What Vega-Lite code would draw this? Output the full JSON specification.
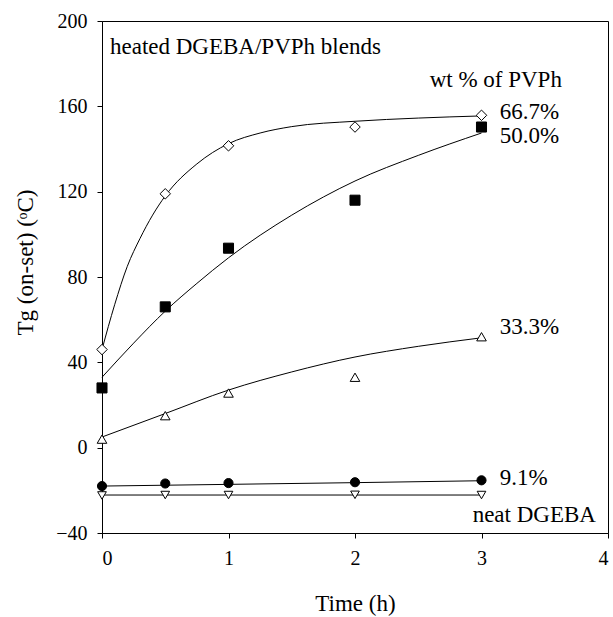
{
  "$schema": "https://vega.github.io/schema/vega-lite/v6.json",
  "width": 506,
  "height": 512,
  "autosize": {"type": "none"},
  "padding": {"left": 102, "top": 21, "right": 5, "bottom": 84},
  "background": "white",
  "config": {
    "view": {"stroke": "black", "strokeWidth": 1},
    "font": "Liberation Serif",
    "axis": {
      "grid": false,
      "domainColor": "black",
      "domainWidth": 1,
      "tickColor": "black",
      "tickSize": 5,
      "labelColor": "black",
      "labelFont": "Liberation Serif",
      "labelFontSize": 20,
      "labelPadding": 10,
      "titleFont": "Liberation Serif",
      "titleFontSize": 23,
      "titleFontWeight": "normal",
      "titleColor": "black"
    }
  },
  "datasets": {
    "pts": [
      {"series": "66.7%", "x": 0, "y": 46},
      {"series": "66.7%", "x": 0.5, "y": 119},
      {"series": "66.7%", "x": 1, "y": 141.5},
      {"series": "66.7%", "x": 2, "y": 150.3},
      {"series": "66.7%", "x": 3, "y": 155.8},
      {"series": "50.0%", "x": 0, "y": 28},
      {"series": "50.0%", "x": 0.5, "y": 66},
      {"series": "50.0%", "x": 1, "y": 93.5},
      {"series": "50.0%", "x": 2, "y": 116},
      {"series": "50.0%", "x": 3, "y": 150.3},
      {"series": "33.3%", "x": 0, "y": 4},
      {"series": "33.3%", "x": 0.5, "y": 15},
      {"series": "33.3%", "x": 1, "y": 25.6},
      {"series": "33.3%", "x": 2, "y": 33},
      {"series": "33.3%", "x": 3, "y": 52},
      {"series": "9.1%", "x": 0, "y": -18},
      {"series": "9.1%", "x": 0.5, "y": -16.8},
      {"series": "9.1%", "x": 1, "y": -16.6},
      {"series": "9.1%", "x": 2, "y": -16.2},
      {"series": "9.1%", "x": 3, "y": -15.3},
      {"series": "neat", "x": 0, "y": -22.4},
      {"series": "neat", "x": 0.5, "y": -22.2},
      {"series": "neat", "x": 1, "y": -22.2},
      {"series": "neat", "x": 2, "y": -22.1},
      {"series": "neat", "x": 3, "y": -22.2}
    ],
    "curves": [
      {"series": "66.7%", "x": 0, "y": 46},
      {"series": "66.7%", "x": 0.1, "y": 67},
      {"series": "66.7%", "x": 0.2, "y": 85},
      {"series": "66.7%", "x": 0.3, "y": 98},
      {"series": "66.7%", "x": 0.4, "y": 109},
      {"series": "66.7%", "x": 0.5, "y": 118},
      {"series": "66.7%", "x": 0.75, "y": 133},
      {"series": "66.7%", "x": 1, "y": 142.5},
      {"series": "66.7%", "x": 1.25, "y": 147.5},
      {"series": "66.7%", "x": 1.5, "y": 150.5},
      {"series": "66.7%", "x": 2, "y": 153},
      {"series": "66.7%", "x": 2.5, "y": 154.5},
      {"series": "66.7%", "x": 3, "y": 155.5},
      {"series": "50.0%", "x": 0, "y": 33},
      {"series": "50.0%", "x": 0.25, "y": 49},
      {"series": "50.0%", "x": 0.5, "y": 64},
      {"series": "50.0%", "x": 0.75, "y": 77},
      {"series": "50.0%", "x": 1, "y": 89},
      {"series": "50.0%", "x": 1.5, "y": 109},
      {"series": "50.0%", "x": 2, "y": 125},
      {"series": "50.0%", "x": 2.5, "y": 137},
      {"series": "50.0%", "x": 3, "y": 147.5},
      {"series": "33.3%", "x": 0, "y": 5},
      {"series": "33.3%", "x": 0.5, "y": 16},
      {"series": "33.3%", "x": 1, "y": 27},
      {"series": "33.3%", "x": 1.5, "y": 35.5},
      {"series": "33.3%", "x": 2, "y": 42.5},
      {"series": "33.3%", "x": 2.5, "y": 47.5},
      {"series": "33.3%", "x": 3, "y": 51.5},
      {"series": "9.1%", "x": 0, "y": -18},
      {"series": "9.1%", "x": 1, "y": -17.2},
      {"series": "9.1%", "x": 2, "y": -16.4},
      {"series": "9.1%", "x": 3, "y": -15.5},
      {"series": "neat", "x": 0, "y": -22.2},
      {"series": "neat", "x": 3, "y": -22.2}
    ],
    "labels": [
      {"x": 0.063, "y": 187.8, "text": "heated DGEBA/PVPh blends"},
      {"x": 2.59, "y": 172.3, "text": "wt % of PVPh"},
      {"x": 3.144, "y": 157.3, "text": "66.7%"},
      {"x": 3.144, "y": 146.3, "text": "50.0%"},
      {"x": 3.144, "y": 56.6, "text": "33.3%"},
      {"x": 3.144, "y": -14.2, "text": "9.1%"},
      {"x": 2.93, "y": -31.5, "text": "neat DGEBA"}
    ]
  },
  "layer": [
    {
      "data": {"name": "curves"},
      "mark": {"type": "line", "interpolate": "monotone", "color": "black", "strokeWidth": 1},
      "encoding": {
        "x": {
          "field": "x", "type": "quantitative",
          "scale": {"domain": [0, 4], "nice": false, "zero": false},
          "axis": {"values": [0, 1, 2, 3, 4], "format": "d", "title": "Time (h)", "titleY": 70, "titleBaseline": "middle"}
        },
        "y": {
          "field": "y", "type": "quantitative",
          "scale": {"domain": [-40, 200], "nice": false, "zero": false},
          "axis": {"values": [-40, 0, 40, 80, 120, 160, 200], "title": "Tg (on-set) (ᵒC)", "titleX": -77, "titleY": 241, "titleBaseline": "middle", "titleAngle": -90}
        },
        "detail": {"field": "series"}
      }
    },
    {
      "data": {"name": "pts"},
      "mark": {"type": "point", "filled": false, "stroke": "black", "strokeWidth": 1, "opacity": 1},
      "encoding": {
        "x": {"field": "x", "type": "quantitative"},
        "y": {"field": "y", "type": "quantitative"},
        "shape": {
          "field": "series", "type": "nominal", "legend": null,
          "scale": {"domain": ["66.7%", "50.0%", "33.3%", "9.1%", "neat"], "range": ["diamond", "square", "triangle-up", "circle", "triangle-down"]}
        },
        "fill": {
          "field": "series", "type": "nominal", "legend": null,
          "scale": {"domain": ["66.7%", "50.0%", "33.3%", "9.1%", "neat"], "range": ["white", "black", "white", "black", "white"]}
        },
        "size": {
          "field": "series", "type": "nominal", "legend": null,
          "scale": {"domain": ["66.7%", "50.0%", "33.3%", "9.1%", "neat"], "range": [110, 75, 100, 110, 100]}
        }
      }
    },
    {
      "data": {"name": "labels"},
      "mark": {"type": "text", "align": "left", "baseline": "middle", "fontSize": 23, "font": "Liberation Serif", "color": "black"},
      "encoding": {
        "x": {"field": "x", "type": "quantitative"},
        "y": {"field": "y", "type": "quantitative"},
        "text": {"field": "text"}
      }
    }
  ]
}
